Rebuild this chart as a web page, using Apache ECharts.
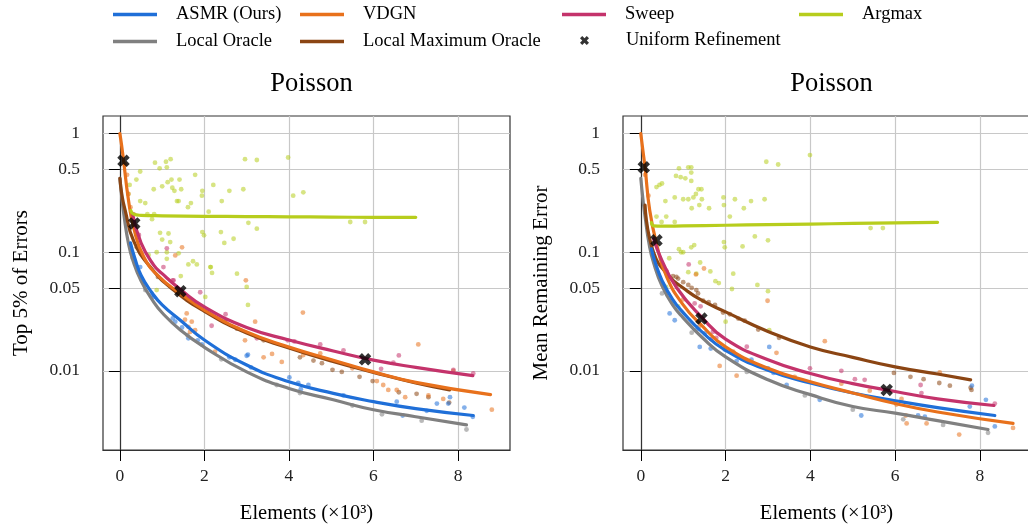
<!DOCTYPE html>
<html>
<head>
<meta charset="utf-8">
<script src="https://cdn.jsdelivr.net/npm/echarts@6/dist/echarts.min.js"></script>
<style>
  html, body { margin: 0; padding: 0; background: #ffffff; }
  #chart { width: 1028px; height: 529px; }
</style>
</head>
<body>
<div id="chart"></div>
<script>
// ---------- labels ----------
const methodNames = ['ASMR (Ours)', 'VDGN', 'Sweep', 'Argmax', 'Local Oracle', 'Local Maximum Oracle', 'Uniform Refinement'];
const panelTitles = ['Poisson', 'Poisson'];
const yAxisNames = ['Top 5% of Errors', 'Mean Remaining Error'];
const xAxisName = 'Elements (\u00d710\u00b3)';
const yTickValues = [0.01, 0.05, 0.1, 0.5, 1];
const xTickValues = [0, 2, 4, 6, 8];

// ---------- panel 1: top 5% of errors (x in thousands of elements) ----------
const topAsmrX = [0.25, 0.35, 0.5, 0.75, 1.0, 1.43, 2.0, 3.0, 4.0, 5.05, 6.0, 7.0, 8.36];
const topAsmrY = [0.12, 0.09, 0.064, 0.046, 0.036, 0.0267, 0.0182, 0.0112, 0.0081, 0.00645, 0.0055, 0.0048, 0.0042];
const topVdgnX = [0, 0.04, 0.085, 0.2, 0.32, 0.56, 0.95, 1.43, 2.0, 3.0, 4.0, 5.05, 6.0, 7.0, 8.77];
const topVdgnY = [1.0, 0.8, 0.6, 0.28, 0.165, 0.092, 0.061, 0.045, 0.0325, 0.0213, 0.0159, 0.0123, 0.0098, 0.008, 0.0063];
const topSweepX = [0.3, 0.5, 0.8, 1.0, 1.45, 2.0, 3.0, 4.0, 5.05, 6.0, 7.0, 8.35];
const topSweepY = [0.21, 0.12, 0.078, 0.066, 0.048, 0.0346, 0.0232, 0.0182, 0.0147, 0.0123, 0.0107, 0.0091];
const topArgmaxX = [0.26, 0.32, 0.5, 1, 2, 3, 4, 5, 6, 7.0];
const topArgmaxY = [0.225, 0.21, 0.205, 0.203, 0.201, 0.2, 0.199, 0.198, 0.197, 0.197];
const topOracleX = [0, 0.04, 0.1, 0.2, 0.3, 0.5, 0.8, 1.0, 1.43, 2.0, 3.0, 4.0, 5.05, 6.0, 7.0, 8.2];
const topOracleY = [0.42, 0.3, 0.2, 0.12, 0.087, 0.0575, 0.038, 0.0309, 0.0221, 0.0158, 0.0098, 0.0071, 0.0057, 0.0047, 0.0041, 0.0035];
const topMaxOracleX = [0, 0.05, 0.125, 0.32, 0.72, 1.27, 2.0, 3.0, 4.0, 5.0, 6.0, 7.0, 7.8];
const topMaxOracleY = [0.42, 0.3, 0.226, 0.126, 0.075, 0.048, 0.0318, 0.0208, 0.0156, 0.0121, 0.0097, 0.0079, 0.0069];
const topUniformX = [0.085, 0.34, 1.43, 5.8];
const topUniformY = [0.59, 0.175, 0.047, 0.0125];

// individual runs, panel 1
const topAsmrPts = [[0.48,0.075],[0.76,0.0434],[0.8,0.042],[1.25,0.0277],[1.31,0.026],[1.47,0.0232],[1.62,0.0188],[1.84,0.0181],[1.94,0.0167],[2.59,0.013],[2.73,0.0124],[3.03,0.0137],[3.1,0.0107],[3.0,0.0134],[4.01,0.0088],[4.22,0.0079],[4.28,0.007],[4.46,0.0076],[5.29,0.0062],[6.55,0.0055],[7.5,0.0053],[7.77,0.0053],[7.81,0.006],[8.15,0.0049],[8.35,0.0041],[7.26,0.0046],[6.69,0.0042]];
const topVdgnPts = [[0.12,0.55],[0.17,0.45],[0.2,0.31],[0.25,0.24],[1.31,0.094],[1.47,0.11],[2.98,0.058],[4.33,0.031],[7.06,0.0167],[8.8,0.0047],[3.2,0.026],[3.83,0.0119],[3.4,0.013],[3.6,0.0139],[2.25,0.0145],[1.66,0.0213],[1.62,0.0235],[1.54,0.027],[1.7,0.026],[1.78,0.022],[1.58,0.0305],[6.23,0.0076],[6.35,0.0069],[6.55,0.0069],[6.75,0.006],[7.65,0.0058],[7.89,0.01],[6.08,0.0082],[4.34,0.0136],[4.74,0.014],[2.96,0.0181],[5.5,0.0105],[7.3,0.0062]];
const topSweepPts = [[0.32,0.21],[0.45,0.14],[1.03,0.075],[1.11,0.108],[1.9,0.046],[1.25,0.058],[1.27,0.058],[2.17,0.024],[4.13,0.0177],[4.74,0.0167],[5.29,0.0149],[6.18,0.0104],[6.47,0.0117],[6.6,0.0135],[8.36,0.0095],[7.89,0.0102],[3.97,0.0181],[3.24,0.0188],[1.6,0.04],[2.5,0.03]];
const topArgmaxPts = [[0.83,0.57],[1.09,0.58],[1.2,0.61],[1.11,0.52],[0.94,0.51],[0.48,0.48],[0.39,0.41],[0.23,0.37],[0.2,0.31],[0.48,0.27],[0.6,0.26],[0.8,0.34],[1.0,0.36],[1.13,0.39],[1.22,0.41],[1.41,0.41],[1.24,0.35],[1.29,0.33],[1.45,0.34],[1.35,0.27],[1.39,0.27],[1.78,0.45],[1.68,0.26],[1.61,0.24],[1.95,0.33],[1.94,0.3],[2.21,0.37],[2.59,0.33],[2.92,0.34],[2.96,0.61],[3.24,0.6],[2.1,0.22],[2.41,0.27],[3.04,0.177],[3.24,0.158],[1.95,0.148],[1.99,0.139],[2.39,0.148],[2.69,0.13],[2.47,0.12],[2.77,0.066],[2.15,0.075],[1.82,0.079],[1.62,0.079],[1.73,0.084],[1.15,0.144],[0.95,0.146],[1.11,0.1],[1.19,0.122],[0.81,0.21],[0.76,0.19],[0.65,0.21],[1.0,0.128],[0.87,0.1],[1.39,0.098],[0.68,0.095],[3.98,0.63],[4.34,0.32],[4.1,0.3],[5.45,0.18],[5.8,0.18],[1.11,0.088],[2.14,0.075],[2.18,0.067],[3.0,0.051],[3.03,0.036],[2.02,0.042],[0.87,0.048],[1.44,0.063]];
const topOraclePts = [[8.2,0.0032],[7.14,0.0038],[6.2,0.0043],[4.26,0.0065],[3.71,0.0076],[0.3,0.09],[0.6,0.048],[1.6,0.02],[2.4,0.0125],[5.5,0.0051]];
const topMaxOraclePts = [[7.79,0.0054],[7.3,0.006],[7.02,0.0064],[6.6,0.0066],[5.98,0.0082],[5.67,0.0089],[5.25,0.0098],[5.03,0.0102],[4.78,0.0116],[4.58,0.0122],[4.26,0.013],[3.4,0.0181],[2.77,0.0227],[2.49,0.026],[0.4,0.11],[0.9,0.062],[1.6,0.04]];

// ---------- panel 2: mean remaining error ----------
const meanAsmrX = [0.25, 0.35, 0.5, 0.75, 1.0, 1.43, 2.0, 3.0, 4.0, 5.0, 6.0, 7.0, 8.35];
const meanAsmrY = [0.107, 0.08, 0.058, 0.04, 0.031, 0.0215, 0.0149, 0.0101, 0.0079, 0.0065, 0.0056, 0.0049, 0.0042];
const meanVdgnX = [0, 0.05, 0.1, 0.21, 0.37, 0.61, 1.0, 1.43, 2.0, 3.0, 4.0, 5.0, 6.0, 7.0, 8.78];
const meanVdgnY = [1.0, 0.72, 0.52, 0.226, 0.118, 0.062, 0.036, 0.0243, 0.0159, 0.0105, 0.0081, 0.0065, 0.0053, 0.0045, 0.0036];
const meanSweepX = [0.3, 0.5, 0.85, 1.43, 2.0, 3.0, 4.0, 5.0, 6.0, 7.0, 8.33];
const meanSweepY = [0.13, 0.085, 0.05, 0.0285, 0.0185, 0.0124, 0.0095, 0.0078, 0.0067, 0.0058, 0.0051];
const meanArgmaxX = [0.25, 0.3, 0.5, 1, 2, 3, 4, 5, 6, 7.0];
const meanArgmaxY = [0.178, 0.167, 0.166, 0.167, 0.169, 0.171, 0.173, 0.175, 0.177, 0.179];
const meanOracleX = [0, 0.05, 0.1, 0.2, 0.3, 0.5, 0.75, 1.0, 1.43, 2.0, 3.0, 4.0, 5.0, 6.0, 7.0, 8.19];
const meanOracleY = [0.42, 0.28, 0.2, 0.115, 0.082, 0.052, 0.036, 0.028, 0.0194, 0.0131, 0.0084, 0.0063, 0.005, 0.0044, 0.0038, 0.0032];
const meanMaxOracleX = [0.1, 0.3, 0.68, 1.0, 1.4, 2.0, 3.0, 4.0, 5.0, 6.0, 7.0, 7.78];
const meanMaxOracleY = [0.25, 0.1, 0.062, 0.05, 0.04, 0.0314, 0.0215, 0.0159, 0.013, 0.0108, 0.0094, 0.0084];
const meanUniformX = [0.07, 0.37, 1.43, 5.8];
const meanUniformY = [0.52, 0.126, 0.0276, 0.0069];

// individual runs, panel 2
const meanAsmrPts = [[0.68,0.0305],[0.8,0.0267],[1.31,0.022],[1.51,0.0207],[1.39,0.0159],[1.65,0.0154],[1.98,0.0151],[2.26,0.0121],[2.61,0.0124],[3.0,0.0105],[3.03,0.0159],[3.13,0.0096],[3.44,0.0076],[4.22,0.0057],[5.2,0.0042],[6.54,0.0042],[6.7,0.0041],[7.76,0.005],[8.14,0.0057],[8.35,0.0034],[7.81,0.0075]];
const meanVdgnPts = [[0.1,0.45],[0.18,0.3],[1.3,0.065],[1.49,0.073],[2.99,0.039],[4.34,0.0178],[3.2,0.0142],[2.18,0.0145],[2.26,0.0091],[1.86,0.011],[1.37,0.0235],[3.63,0.0089],[4.73,0.0078],[6.03,0.0052],[6.15,0.0058],[6.25,0.0042],[6.27,0.0036],[6.74,0.0036],[7.05,0.0097],[7.51,0.0029],[8.78,0.0033],[1.0,0.04],[5.4,0.0068]];
const meanSweepPts = [[1.13,0.079],[1.27,0.037],[1.41,0.035],[1.7,0.0213],[1.78,0.019],[1.66,0.0185],[3.99,0.0105],[4.73,0.01],[5.28,0.0084],[5.05,0.0085],[6.6,0.0076],[6.62,0.0065],[8.35,0.0053],[0.6,0.07],[2.5,0.016]];
const meanArgmaxPts = [[0.9,0.51],[1.12,0.52],[1.19,0.52],[0.83,0.44],[0.94,0.43],[1.05,0.42],[1.19,0.47],[1.19,0.4],[0.37,0.355],[0.5,0.38],[0.44,0.37],[0.58,0.27],[0.8,0.29],[1.0,0.28],[1.12,0.28],[1.24,0.29],[1.3,0.31],[1.36,0.34],[1.43,0.34],[1.44,0.28],[1.38,0.25],[1.2,0.235],[1.61,0.235],[1.95,0.29],[1.96,0.25],[2.22,0.28],[2.43,0.235],[2.6,0.27],[2.92,0.28],[2.96,0.58],[3.24,0.55],[2.1,0.2],[0.37,0.2],[0.6,0.2],[0.8,0.18],[0.49,0.18],[2.69,0.136],[2.4,0.112],[1.96,0.122],[1.98,0.11],[0.9,0.106],[1.0,0.1],[1.19,0.11],[1.26,0.115],[0.67,0.089],[1.4,0.082],[1.64,0.069],[1.12,0.068],[1.31,0.066],[1.84,0.055],[2.18,0.066],[2.75,0.053],[3.0,0.047],[3.99,0.66],[5.42,0.16],[5.71,0.16],[3.0,0.126],[0.95,0.1],[1.76,0.057],[2.15,0.049],[2.0,0.026],[3.03,0.022],[0.76,0.037],[0.88,0.035],[0.6,0.051]];
const meanOraclePts = [[3.87,0.0062],[6.19,0.0039],[7.13,0.0035],[8.19,0.003],[0.5,0.045],[1.2,0.021],[2.5,0.0098],[5.0,0.0047]];
const meanMaxOraclePts = [[0.61,0.068],[0.76,0.063],[0.84,0.062],[0.88,0.06],[1.0,0.056],[1.12,0.053],[1.2,0.05],[1.31,0.048],[1.35,0.045],[1.47,0.039],[1.6,0.038],[1.75,0.036],[1.94,0.031],[2.1,0.03],[2.3,0.0276],[2.45,0.0265],[2.77,0.0223],[3.26,0.019],[5.97,0.0096],[6.36,0.0089],[6.67,0.0085],[7.04,0.0079],[7.29,0.0075],[7.8,0.0069],[7.78,0.0072]];

// ---------- styling ----------
const SERIF = '"Liberation Serif", "DejaVu Serif", serif';
const methodColors = {
  'ASMR (Ours)': '#1f6fd8',
  'VDGN': '#e8711c',
  'Sweep': '#c4336b',
  'Argmax': '#b7cd1d',
  'Local Oracle': '#808080',
  'Local Maximum Oracle': '#8b4513',
  'Uniform Refinement': '#000000'
};
// bold "x" marker used for uniform refinement
const CROSS = 'path://M0,2.5 L2.5,0 L5,2.5 L7.5,0 L10,2.5 L7.5,5 L10,7.5 L7.5,10 L5,7.5 L2.5,10 L0,7.5 L2.5,5 Z';

const zip = (xs, ys) => xs.map((x, i) => [x, ys[i]]);

const panels = [
  {
    curves: [
      ['ASMR (Ours)', topAsmrX, topAsmrY, 4],
      ['VDGN', topVdgnX, topVdgnY, 4],
      ['Sweep', topSweepX, topSweepY, 5],
      ['Argmax', topArgmaxX, topArgmaxY, 5],
      ['Local Oracle', topOracleX, topOracleY, 3],
      ['Local Maximum Oracle', topMaxOracleX, topMaxOracleY, 3]
    ],
    points: [
      ['Argmax', topArgmaxPts], ['Local Oracle', topOraclePts], ['Local Maximum Oracle', topMaxOraclePts],
      ['VDGN', topVdgnPts], ['Sweep', topSweepPts], ['ASMR (Ours)', topAsmrPts]
    ],
    uniform: zip(topUniformX, topUniformY),
    xMin: -0.4, xMax: 9.23
  },
  {
    curves: [
      ['ASMR (Ours)', meanAsmrX, meanAsmrY, 4],
      ['VDGN', meanVdgnX, meanVdgnY, 4],
      ['Sweep', meanSweepX, meanSweepY, 5],
      ['Argmax', meanArgmaxX, meanArgmaxY, 5],
      ['Local Oracle', meanOracleX, meanOracleY, 3],
      ['Local Maximum Oracle', meanMaxOracleX, meanMaxOracleY, 3]
    ],
    points: [
      ['Argmax', meanArgmaxPts], ['Local Oracle', meanOraclePts], ['Local Maximum Oracle', meanMaxOraclePts],
      ['VDGN', meanVdgnPts], ['Sweep', meanSweepPts], ['ASMR (Ours)', meanAsmrPts]
    ],
    uniform: zip(meanUniformX, meanUniformY),
    xMin: -0.42, xMax: 9.18
  }
];

const gridBoxes = [
  { left: 103, top: 116, width: 407, height: 334 },
  { left: 623, top: 116, width: 407, height: 334 }
];

// fitted curves first (so the legend takes their solid colours), then the runs
const series = [];
panels.forEach((p, i) => {
  p.curves.forEach(([name, xs, ys, z]) => {
    series.push({
      name, type: 'line', xAxisIndex: i, yAxisIndex: i, data: zip(xs, ys),
      smooth: 0.5, showSymbol: false, symbol: 'none', silent: true, z,
      lineStyle: { color: methodColors[name], width: 3.2, cap: 'round', join: 'round' },
      itemStyle: { color: methodColors[name] }
    });
  });
});
panels.forEach((p, i) => {
  p.points.forEach(([name, pts]) => {
    series.push({
      name, type: 'scatter', xAxisIndex: i, yAxisIndex: i, data: pts,
      symbol: 'circle', symbolSize: 4.8, silent: true, z: 1,
      itemStyle: { color: methodColors[name], opacity: 0.55 }
    });
  });
  series.push({
    name: 'Uniform Refinement', type: 'scatter', xAxisIndex: i, yAxisIndex: i, data: p.uniform,
    symbol: CROSS, symbolSize: 12.5, silent: true, z: 10,
    itemStyle: { color: '#000000' }
  });
});

const LEGEND_TOP = 5;
const LEGEND_ROW = 26;
const legendBase = {
  orient: 'vertical', top: LEGEND_TOP, padding: 0, itemWidth: 44, itemHeight: 3.5, itemGap: 8,
  icon: 'rect', selectedMode: false,
  textStyle: { fontFamily: SERIF, fontSize: 18.5, color: '#000', padding: [0, 0, 0, 14] }
};

const option = {
  animation: false,
  backgroundColor: '#ffffff',
  title: panelTitles.map((t, i) => ({
    text: t, left: gridBoxes[i].left + gridBoxes[i].width / 2, top: 66, textAlign: 'center',
    textStyle: { fontFamily: SERIF, fontSize: 26.5, fontWeight: 'normal', color: '#000' }
  })),
  legend: [
    Object.assign({}, legendBase, { left: 113, data: ['ASMR (Ours)', 'Local Oracle'] }),
    Object.assign({}, legendBase, { left: 300, data: ['VDGN', 'Local Maximum Oracle'] }),
    Object.assign({}, legendBase, { left: 562, data: ['Sweep'] }),
    Object.assign({}, legendBase, { left: 799, data: ['Argmax'] }),
    Object.assign({}, legendBase, {
      left: 580, top: LEGEND_TOP + LEGEND_ROW, itemWidth: 9, itemHeight: 9,
      textStyle: Object.assign({}, legendBase.textStyle, { padding: [0, 0, 0, 32] }),
      data: [{ name: 'Uniform Refinement', icon: CROSS }]
    })
  ],
  grid: gridBoxes.map(b => Object.assign({
    show: true, borderColor: '#333', borderWidth: 1.2, backgroundColor: 'transparent',
    containLabel: false, outerBoundsMode: 'none'
  }, b)),
  xAxis: panels.map((p, i) => ({
    type: 'value', gridIndex: i, min: p.xMin, max: p.xMax,
    name: xAxisName, nameLocation: 'middle', nameGap: 53,
    nameTextStyle: { fontFamily: SERIF, fontSize: 20.5, color: '#000' },
    axisLine: { show: true, onZero: false, lineStyle: { color: '#333', width: 1.2 } },
    axisTick: { show: true, inside: false, length: 11, customValues: xTickValues, lineStyle: { color: '#000', width: 1 } },
    axisLabel: { customValues: xTickValues, margin: 17, fontFamily: SERIF, fontSize: 17.5, color: '#222' },
    splitLine: { show: true, lineStyle: { color: '#c8c8c8', width: 1.2 } }
  })),
  yAxis: panels.map((p, i) => ({
    type: 'log', logBase: 10, gridIndex: i, min: 0.00215, max: 1.41,
    name: yAxisNames[i], nameLocation: 'middle', nameGap: 71, nameRotate: 90,
    nameTextStyle: { fontFamily: SERIF, fontSize: 21, color: '#000' },
    axisLine: { show: true, lineStyle: { color: '#333', width: 1.2 } },
    axisTick: { show: true, inside: false, length: 11, customValues: yTickValues, lineStyle: { color: '#000', width: 1 } },
    axisLabel: {
      customValues: yTickValues, margin: 23, fontFamily: SERIF, fontSize: 17.5, color: '#222',
      formatter: v => String(+(+v).toPrecision(3))
    },
    splitLine: { show: true, lineStyle: { color: '#c8c8c8', width: 1.2 } },
    minorTick: { show: false }, minorSplitLine: { show: false }
  })),
  series
};

const chart = echarts.init(document.getElementById('chart'), null, { renderer: 'canvas' });
chart.setOption(option);
</script>
</body>
</html>
